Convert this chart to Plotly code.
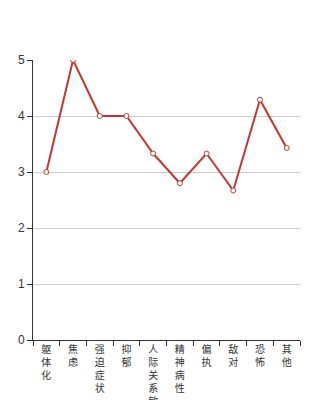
import plotly.graph_objects as go

categories = ["躯体化", "焦虑", "强迫症状", "抑郁", "人际关系敏感", "精神病性", "偏执", "敌对", "恐怖", "其他"]
values = [3.0, 5.0, 4.0, 4.0, 3.33, 2.8, 3.33, 2.67, 4.29, 3.43]
y_ticks = [0, 1, 2, 3, 4, 5]

tick_text = ["<br>".join(list(c)) for c in categories]

fig = go.Figure()
fig.add_trace(go.Scatter(
    x=categories, y=values, mode="lines+markers",
    line=dict(color="#c23531", width=2),
    marker=dict(symbol="circle", size=5, color="white", line=dict(color="#c23531", width=1)),
    hoverinfo="skip",
))
fig.update_layout(
    width=334, height=400,
    margin=dict(l=33, r=34, t=60, b=60),
    plot_bgcolor="white", paper_bgcolor="white",
    showlegend=False,
    font=dict(family="Liberation Sans, Noto Sans CJK SC", color="#333", size=12),
)
fig.update_xaxes(
    tickmode="array", tickvals=categories, ticktext=tick_text,
    tickson="boundaries", ticks="outside", ticklen=5, tickcolor="#333",
    showline=True, linecolor="#333", linewidth=1, showgrid=False,
    tickfont=dict(family="Noto Sans CJK SC", size=10, color="#333"),
    range=[-0.5, 9.5], automargin=False,
)
fig.update_yaxes(
    range=[0, 5], tickvals=y_ticks, ticks="outside", ticklen=5, tickcolor="#333",
    showline=True, linecolor="#333", linewidth=1,
    showgrid=True, gridcolor="#ccc", gridwidth=1, zeroline=False,
    tickfont=dict(size=12, color="#333"), automargin=False,
)
fig.write_html("out.html")
